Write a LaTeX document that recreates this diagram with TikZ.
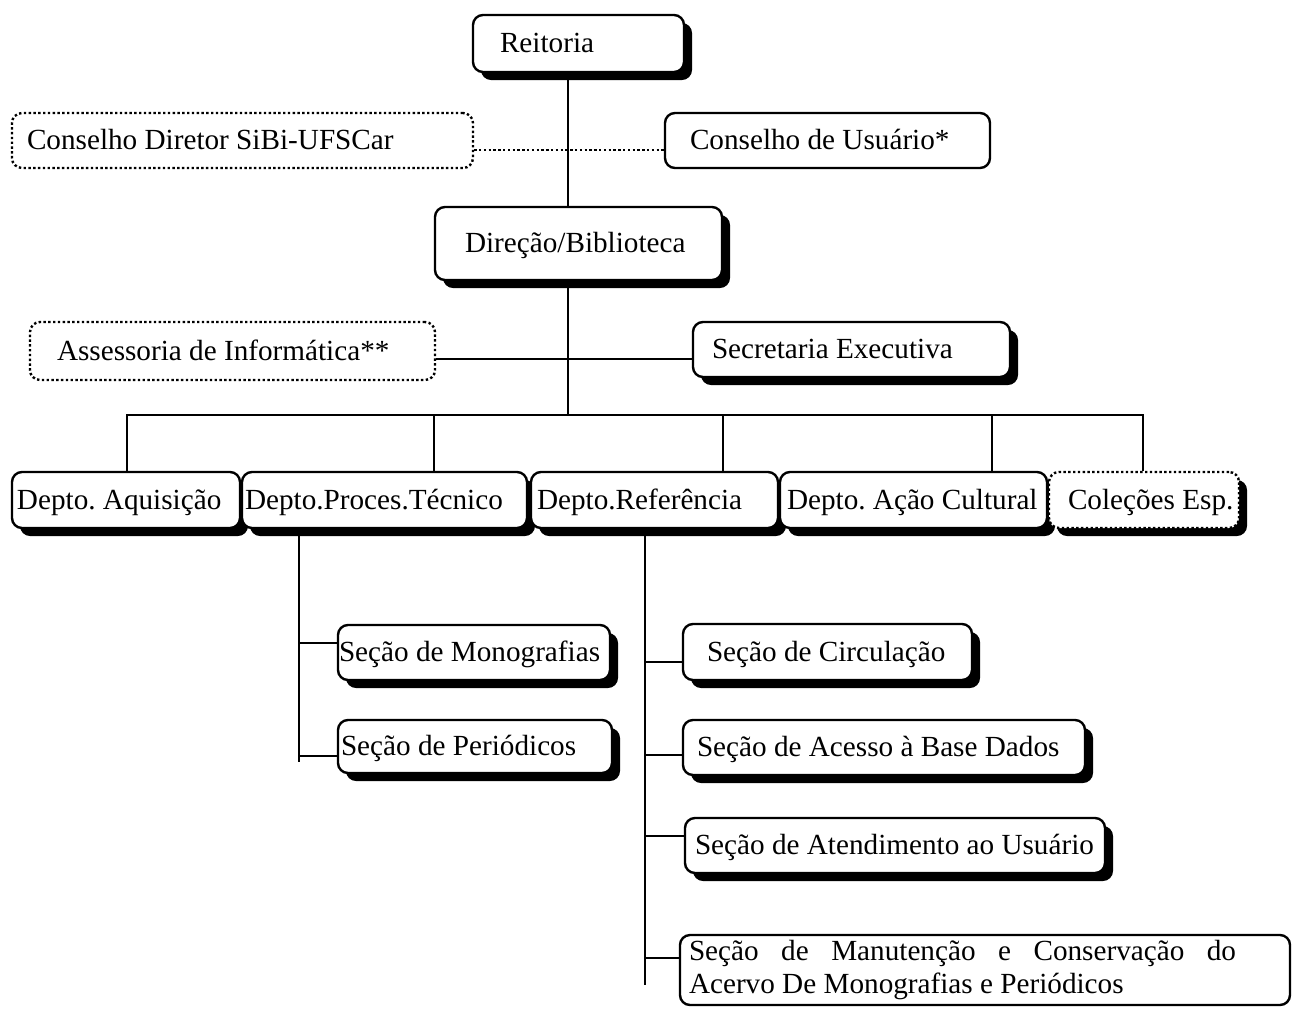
\documentclass[tikz,border=0pt]{standalone}
\usepackage{fontspec}
\setmainfont{Liberation Serif}
\usetikzlibrary{shadows}
\frenchspacing
\tikzset{
  bxbase/.style={draw, line width=1.2pt, rounded corners=5pt, fill=white,
    font=\fontsize{14.6}{16.5}\selectfont\frenchspacing},
  oneline/.style={text height=10.5pt, text depth=1.5pt},
  shad/.style={drop shadow={shadow xshift=4pt, shadow yshift=-4pt, fill=black, opacity=1}},
  dotbox/.style={dash pattern=on 1.2pt off 1.2pt},
  conn/.style={line width=1.1pt},
  dotconn/.style={line width=1.2pt, dash pattern=on 1.2pt off 1.2pt},
}
\newcommand\bx[8]{%
  \pgfmathsetmacro\bxcx{(#2+#4)/2}%
  \pgfmathsetmacro\bxcy{(#3+#5)/2}%
  \pgfmathsetmacro\bxw{(#4-#2)/2}%
  \pgfmathsetmacro\bxh{(#5-#3)/2}%
  \pgfmathsetmacro\bxp{#6/2}%
  \pgfmathsetmacro\bxt{(#4-#2)/2-#6}%
  \node[bxbase, oneline, #7, minimum width=\bxw pt, minimum height=\bxh pt,
        inner xsep=\bxp pt, inner ysep=0pt] (#1) at (\bxcx,\bxcy)
        {\makebox[\bxt pt][l]{#8}};}
\begin{document}
\begin{tikzpicture}[x=0.5pt,y=-0.5pt]
\useasboundingbox (0,0) rectangle (1295,1008);
% boxes
\bx{reit}{473}{15}{684}{72}{27}{shad}{Reitoria}
\bx{cdir}{12}{113}{473}{168}{15}{dotbox}{Conselho Diretor SiBi-UFSCar}
\bx{cusu}{665}{113}{990}{168}{25}{}{Conselho de Usuário*}
\bx{dir}{435}{207}{722}{280}{30}{shad}{Direção/Biblioteca}
\bx{asse}{30}{322}{435}{380}{27}{dotbox}{Assessoria de Informática**}
\bx{secr}{693}{322}{1010}{377}{19}{shad}{Secretaria Executiva}
\bx{aqui}{12}{472}{240}{528}{5}{shad}{Depto. Aquisição}
\bx{proc}{242}{472}{527}{528}{3}{shad}{Depto.Proces.Técnico}
\bx{refe}{531}{472}{778}{528}{6}{shad}{Depto.Referência}
\bx{acao}{780}{472}{1047}{528}{7}{shad}{Depto. Ação Cultural}
\bx{cole}{1049}{472}{1239}{528}{19}{shad,dotbox}{Coleções Esp.}
\bx{mono}{338}{625}{610}{680}{1}{shad}{Seção de Monografias}
\bx{peri}{338}{720}{612}{773}{3}{shad}{Seção de Periódicos}
\bx{circ}{683}{624}{972}{680}{24}{shad}{Seção de Circulação}
\bx{aces}{683}{720}{1085}{775}{14}{shad}{Seção de Acesso à Base Dados}
\bx{aten}{685}{818}{1105}{873}{10}{shad}{Seção de Atendimento ao Usuário}
\node[bxbase, minimum width=305pt, minimum height=35pt, inner xsep=4.5pt, inner ysep=0pt]
  (manu) at (985,970)
  {\makebox[296pt][l]{\parbox{273.5pt}{\makebox[\linewidth][s]{Seção de Manutenção e Conservação do}\\Acervo De Monografias e Periódicos}}};
% coordinates
\coordinate (trunk) at (568,0);
\coordinate (hy) at (0,150);
\coordinate (ay) at (0,359);
\coordinate (busL) at (127,415);
\coordinate (busM) at (568,415);
\coordinate (busR) at (1143,415);
\coordinate (b2) at (434,415);
\coordinate (b3) at (723,415);
\coordinate (b4) at (992,415);
\coordinate (pv) at (299,762);
\coordinate (rv) at (645,985);
% connectors
\draw[conn] (reit.south -| trunk) -- (dir.north -| trunk);
\draw[dotconn] (cdir.east |- hy) -- (cusu.west |- hy);
\draw[conn] (dir.south -| trunk) -- (busM);
\draw[conn] (asse.east |- ay) -- (secr.west |- ay);
\draw[conn] (aqui.north -| busL) -- (busL) -- (busR) -- (cole.north -| busR);
\draw[conn] (b2) -- (proc.north -| b2);
\draw[conn] (b3) -- (refe.north -| b3);
\draw[conn] (b4) -- (acao.north -| b4);
\draw[conn] (proc.south -| pv) -- (pv);
\draw[conn] (pv |- 0,643) -- (mono.west |- 0,643);
\draw[conn] (pv |- 0,756) -- (peri.west |- 0,756);
\draw[conn] (refe.south -| rv) -- (rv);
\draw[conn] (rv |- 0,662) -- (circ.west |- 0,662);
\draw[conn] (rv |- 0,755) -- (aces.west |- 0,755);
\draw[conn] (rv |- 0,836) -- (aten.west |- 0,836);
\draw[conn] (rv |- 0,958) -- (manu.west |- 0,958);
\end{tikzpicture}
\end{document}
